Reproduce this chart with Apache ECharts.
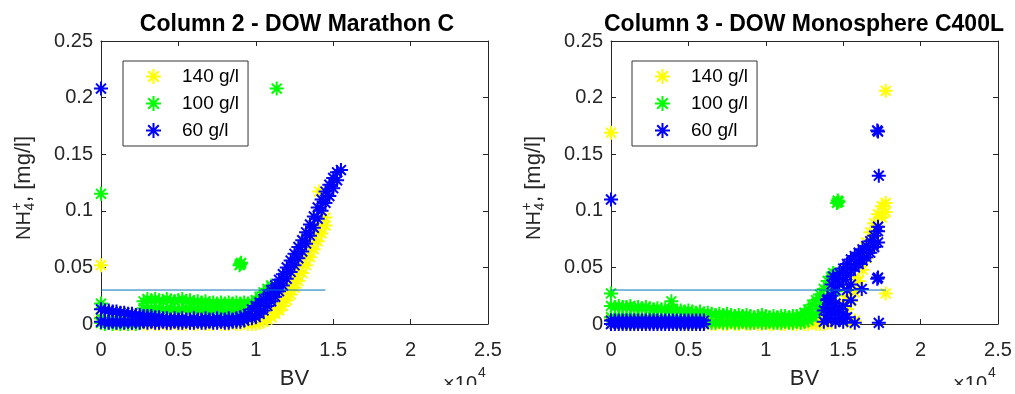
<!DOCTYPE html>
<html><head><meta charset="utf-8">
<script src="https://cdn.jsdelivr.net/npm/echarts@6/dist/echarts.min.js"></script>
<style>html,body{margin:0;padding:0;background:#fff}#c{width:1015px;height:394px}</style>
</head><body><div id="c"></div>
<script>
// ---------- tick labels ----------
const xTickLabels = ['0','0.5','1','1.5','2','2.5'];   // x10^4
const yTickLabels = ['0','0.05','0.1','0.15','0.2','0.25'];
const seriesNames = ['140 g/l','100 g/l','60 g/l'];
const titles = ['Column 2 - DOW Marathon C','Column 3 - DOW Monosphere C400L'];
const refLevel = 0.03;
const refEndLeft = 14500;
const refEndRight = 17750;

// ---------- BV sampling positions ----------
const bvLeft = [0,250,500,750,1000,1250,1500,1750,2000,2250,2500,2750,3000,3250,3500,3750,4000,4250,4500,4750,5000,5250,5500,5750,6000,6250,6500,6750,7000,7250,7500,7750,8000,8250,8500,8750,9000,9250,9500,9750,10000,10250,10500,10750,11000,11250,11500,11750,12000,12250,12500,12750,13000,13250,13500,13750,14000,14250,14500,14750,15000,15250,15500];
const bvRight = [0,250,500,750,1000,1250,1500,1750,2000,2250,2500,2750,3000,3250,3500,3750,4000,4250,4500,4750,5000,5250,5500,5750,6000,6250,6500,6750,7000,7250,7500,7750,8000,8250,8500,8750,9000,9250,9500,9750,10000,10250,10500,10750,11000,11250,11500,11750,12000,12250,12500,12750,13000,13250,13500,13750,14000,14250,14500,14750,15000,15250,15500,15750,16000,16250,16500,16750,17000,17250,17500,17750];

// ---------- Column 2 (left) ----------
const c2_140_hi = [0.005,0.004,0.004,0.005,0.003,0.004,0.004,0.003,0.004,0.005,0.004,0.003,0.004,0.004,0.003,0.004,0.003,0.004,0.003,0.003,0.004,0.003,0.003,0.004,0.003,0.003,0.004,0.003,0.003,0.003,0.004,0.003,
  0.003,0.003,0.002,0.003,0.002,0.003,0.002,0.003,
  0.003,0.005,0.007,0.010,0.013,0.016,0.020,0.024,0.029,0.034,0.040,0.046,0.053,0.060,0.067,0.074,0.081,0.088,0.094];
const c2_140_lo = [0.001,0.000,0.001,0.000,0.000,0.001,0.000,0.001,0.000,0.000,0.001,0.000,0.000,0.001,0.000,0.000,0.001,0.000,0.000,0.001,0.000,0.000,0.000,0.001,0.000,0.000,0.001,0.000,0.000,0.000,0.001,0.000,
  0.000,0.000,0.001,0.000,0.000,0.001,0.000,0.000,
  0.000,0.001,0.002,0.004,0.006,0.009,0.012,0.016,0.021,0.026,0.032,0.038,0.045,0.052,0.059,0.066,0.073,0.080,0.087];
const c2_140_extraX = [0, 0, 14100];
const c2_140_extraY = [0.052, 0.006, 0.117];

const c2_100_hi = [0.005,0.004,0.003,0.004,0.004,0.003,0.004,0.003,0.004,0.003,0.004,
  0.020,0.022,0.021,0.022,0.021,0.020,0.022,0.021,0.020,0.021,0.022,0.020,0.021,0.019,0.020,0.019,0.020,0.018,0.019,0.018,0.019,0.018,0.019,0.018,0.019,0.018,0.019,0.018,
  0.019,0.021,0.024,0.028,0.031,0.034];
const c2_100_lo = [0.001,0.000,0.001,0.000,0.001,0.000,0.001,0.000,0.001,0.000,0.001,
  0.014,0.013,0.014,0.013,0.014,0.013,0.012,0.014,0.013,0.012,0.013,0.014,0.012,0.013,0.012,0.013,0.012,0.011,0.012,0.013,0.011,0.012,0.011,0.012,0.011,0.012,0.011,0.012,
  0.013,0.015,0.018,0.021,0.025,0.028];
const c2_100_extraX = [0, 0, 9000, 9050, 8950, 11350];
const c2_100_extraY = [0.115, 0.018, 0.053, 0.054, 0.052, 0.208];

const c2_60_hi = [0.013,0.012,0.012,0.011,0.011,0.010,0.010,0.009,0.009,0.008,0.008,0.007,0.007,0.007,0.006,
  0.006,0.005,0.005,0.004,0.005,0.004,0.005,0.004,0.004,0.005,0.004,0.004,0.005,0.004,0.004,0.005,0.004,0.004,0.005,0.004,
  0.005,0.006,0.007,0.009,
  0.013,0.016,0.019,0.022,0.026,0.030,0.034,0.039,0.044,0.050,0.056,0.062,0.068,0.074,0.081,0.088,0.095,0.103,0.110,0.117,0.123,0.129,0.134];
const c2_60_lo = [0.002,0.002,0.001,0.002,0.001,0.002,0.001,0.002,0.001,0.002,0.001,0.002,0.001,0.002,0.001,
  0.001,0.002,0.001,0.001,0.002,0.001,0.001,0.002,0.001,0.001,0.002,0.001,0.001,0.002,0.001,0.001,0.002,0.001,0.001,0.002,
  0.002,0.002,0.003,0.005,
  0.005,0.006,0.009,0.012,0.016,0.020,0.024,0.029,0.034,0.040,0.046,0.052,0.058,0.064,0.071,0.078,0.085,0.093,0.100,0.107,0.113,0.120,0.127];
const c2_60_extraX = [0, 15500];
const c2_60_extraY = [0.208, 0.136];

// ---------- Column 3 (right) ----------
const c3_140_hi = [0.004,0.003,0.003,0.004,0.003,0.003,0.004,0.003,0.003,0.003,
  0.004,0.003,0.003,0.004,0.003,0.003,0.003,0.004,0.003,0.003,
  0.004,0.003,0.003,0.003,0.004,0.003,0.003,0.004,0.003,0.003,
  0.003,0.004,0.003,0.003,0.004,0.003,0.003,0.003,0.004,0.003,
  0.003,0.004,0.003,0.003,0.003,0.004,0.003,0.003,0.004,0.003,
  0.003,0.003,0.004,0.003,
  0.003,0.004,0.005,0.007,0.010,0.014,0.019,0.025,0.032,0.041,0.051,0.062,0.072,0.081,0.089,0.097,0.104,0.107];
const c3_140_lo = [0.000,0.001,0.000,0.000,0.001,0.000,0.000,0.001,0.000,0.000,
  0.001,0.000,0.000,0.001,0.000,0.000,0.001,0.000,0.000,0.001,
  0.000,0.000,0.001,0.000,0.000,0.001,0.000,0.000,0.001,0.000,
  0.000,0.001,0.000,0.000,0.001,0.000,0.000,0.001,0.000,0.000,
  0.001,0.000,0.000,0.001,0.000,0.000,0.001,0.000,0.000,0.001,
  0.000,0.000,0.001,0.000,
  0.000,0.000,0.001,0.001,0.002,0.004,0.008,0.013,0.020,0.028,0.038,0.048,0.058,0.068,0.077,0.086,0.094,0.099];
const c3_140_extraX = [0, 17750, 17750, 15000, 15500, 15750];
const c3_140_extraY = [0.169, 0.206, 0.027, 0.002, 0.001, 0.003];

const c3_100_hi = [0.016,0.015,0.016,0.015,0.015,0.016,0.014,0.015,0.014,0.015,0.014,0.013,0.014,0.013,0.013,0.012,0.013,0.012,0.012,0.011,0.012,0.011,0.010,0.011,
  0.009,0.010,0.009,0.008,0.009,0.008,0.009,0.008,0.007,0.008,0.007,0.008,0.007,0.006,0.007,0.008,0.007,0.006,0.007,0.006,0.007,0.007,0.006,0.007,0.007,
  0.008,0.010,0.013,0.017,0.021,0.026,0.031,0.038,0.042,0.044];
const c3_100_lo = [0.006,0.005,0.006,0.005,0.006,0.005,0.006,0.005,0.006,0.005,0.005,0.006,0.005,0.005,0.004,0.005,0.004,0.005,0.004,0.004,0.005,0.004,0.004,0.003,
  0.001,0.002,0.001,0.001,0.002,0.001,0.001,0.002,0.001,0.001,0.002,0.001,0.001,0.001,0.002,0.001,0.001,0.002,0.001,0.001,0.001,0.002,0.001,0.001,0.002,
  0.001,0.002,0.003,0.006,0.009,0.013,0.017,0.022,0.026,0.029];
const c3_100_extraX = [0, 3900, 14600, 14650, 14700, 14350];
const c3_100_extraY = [0.027, 0.020, 0.107, 0.109, 0.108, 0.045];

const c3_60_hi = [0.003,0.003,0.003,0.003,0.003,0.003,0.003,0.003,0.003,0.003,0.003,0.003,0.003,0.003,0.003,0.003,0.003,0.003,0.003,0.003,0.003,0.003,0.003,0.003,0.003,
  null,null,null,null,null,null,null,null,null,null,null,null,null,null,null,null,null,null,null,null,null,null,null,null,null,null,null,null,null,null,
  0.012,0.022,0.035,0.040,0.045,0.049,0.053,0.057,0.060,0.063,0.066,0.069,0.073,0.078,0.082];
const c3_60_lo = [0.000,0.000,0.000,0.000,0.000,0.000,0.000,0.000,0.000,0.000,0.000,0.000,0.000,0.000,0.000,0.000,0.000,0.000,0.000,0.000,0.000,0.000,0.000,0.000,0.000,
  null,null,null,null,null,null,null,null,null,null,null,null,null,null,null,null,null,null,null,null,null,null,null,null,null,null,null,null,null,null,
  0.002,0.004,0.025,0.030,0.035,0.039,0.043,0.047,0.050,0.053,0.056,0.059,0.063,0.068,0.072];
const c3_60_extraX = [0,13950,14000,14000,14250,14250,14250,14350,14500,14500,14500,14750,14750,15000,15000,15000,15250,15250,15500,15500,15750,16200,17200,17250,17300,17200,17250,17300,17250];
const c3_60_extraY = [0.110,0.021,0.008,0.015,0.004,0.012,0.020,0.042,0.002,0.010,0.018,0.005,0.013,0.002,0.009,0.016,0.006,0.030,0.021,0.035,0.001,0.031,0.171,0.170,0.131,0.040,0.041,0.001,0.086];

// ---------- build ----------
const FONT = '"Liberation Sans", Arial, Helvetica, sans-serif';
const TXT = '#262626';
const STAR = 'path://M0,-10L0,10M-10,0L10,0M-7.07,-7.07L7.07,7.07M7.07,-7.07L-7.07,7.07';
const COLORS = ['#FFFF00', '#00FF00', '#0000FF'];

function toPoints(xs, hi, lo, ex, ey) {
  const pts = [];
  for (let i = 0; i < hi.length; i++) {
    if (hi[i] != null) pts.push([xs[i], hi[i]]);
    if (lo[i] != null) pts.push([xs[i], lo[i]]);
  }
  for (let i = 0; i < ex.length; i++) pts.push([ex[i], ey[i]]);
  return pts;
}

const plotData = [
  [toPoints(bvLeft, c2_140_hi, c2_140_lo, c2_140_extraX, c2_140_extraY),
   toPoints(bvLeft, c2_100_hi, c2_100_lo, c2_100_extraX, c2_100_extraY),
   toPoints(bvLeft, c2_60_hi, c2_60_lo, c2_60_extraX, c2_60_extraY)],
  [toPoints(bvRight, c3_140_hi, c3_140_lo, c3_140_extraX, c3_140_extraY),
   toPoints(bvRight, c3_100_hi, c3_100_lo, c3_100_extraX, c3_100_extraY),
   toPoints(bvRight, c3_60_hi, c3_60_lo, c3_60_extraX, c3_60_extraY)]
];
const refEnds = [refEndLeft, refEndRight];

const GRID_LEFT = [101, 611];
const GRID_TOP = 41, GRID_W = 387, GRID_H = 283;

const axisLineStyle = { color: TXT, width: 1 };
function xAx(gi, pos) {
  return {
    type: 'value', gridIndex: gi, position: pos, min: 0, max: 25000, interval: 5000,
    axisLine: { show: true, onZero: false, lineStyle: axisLineStyle },
    axisTick: { show: true, inside: true, length: 5, lineStyle: axisLineStyle },
    splitLine: { show: false },
    axisLabel: pos === 'bottom' ? {
      show: true, margin: 16, fontSize: 20, fontFamily: FONT, color: TXT,
      formatter: v => xTickLabels[Math.round(v / 5000)]
    } : { show: false },
    name: pos === 'bottom' ? 'BV' : '',
    nameLocation: 'middle', nameGap: 44,
    nameTextStyle: { fontSize: 22, fontFamily: FONT, color: TXT }
  };
}
function yAx(gi, pos) {
  return {
    type: 'value', gridIndex: gi, position: pos, min: 0, max: 0.25, interval: 0.05,
    axisLine: { show: true, onZero: false, lineStyle: axisLineStyle },
    axisTick: { show: true, inside: true, length: 5, lineStyle: axisLineStyle },
    splitLine: { show: false },
    axisLabel: pos === 'left' ? {
      show: true, margin: 8, fontSize: 20, fontFamily: FONT, color: TXT,
      formatter: v => yTickLabels[Math.round(v / 0.05)]
    } : { show: false }
  };
}

const series = [];
for (let g = 0; g < 2; g++) {
  for (let s = 0; s < 3; s++) {
    series.push({
      type: 'scatter', name: seriesNames[s], xAxisIndex: g * 2, yAxisIndex: g * 2,
      data: plotData[g][s], symbol: STAR, symbolSize: 14,
      itemStyle: { color: COLORS[s], borderColor: COLORS[s], borderWidth: 2, opacity: 1 },
      clip: false, silent: true, emphasis: { disabled: true }, animation: false
    });
  }
  series.push({
    type: 'line', name: 'ref' + g, xAxisIndex: g * 2, yAxisIndex: g * 2,
    data: [[0, refLevel], [refEnds[g], refLevel]],
    symbol: 'none', lineStyle: { color: '#0072BD', width: 1 }, silent: true,
    animation: false, z: 5
  });
}

function yLabel(cx) {
  return {
    type: 'group', x: cx, y: 240, rotation: Math.PI / 2, z: 50,
    children: [
      { type: 'text', x: 0, y: 0, style: { text: 'NH', fontSize: 20, fontFamily: FONT, fill: TXT, align: 'left', verticalAlign: 'middle' } },
      { type: 'text', x: 29.5, y: -7, style: { text: '+', fontSize: 14, fontFamily: FONT, fill: TXT, align: 'left', verticalAlign: 'middle' } },
      { type: 'text', x: 29.5, y: 6, style: { text: '4', fontSize: 14, fontFamily: FONT, fill: TXT, align: 'left', verticalAlign: 'middle' } },
      { type: 'text', x: 38, y: 0, style: { text: ', [mg/l]', fontSize: 22, fontFamily: FONT, fill: TXT, align: 'left', verticalAlign: 'middle' } }
    ]
  };
}
function expLabel(rx) {
  return {
    type: 'group', z: 50,
    children: [
      { type: 'text', x: rx, y: 384, style: { text: '\u00d710', fontSize: 20, fontFamily: FONT, fill: TXT, align: 'right', verticalAlign: 'middle' } },
      { type: 'text', x: rx + 1, y: 373, style: { text: '4', fontSize: 14, fontFamily: FONT, fill: TXT, align: 'left', verticalAlign: 'middle' } }
    ]
  };
}

const legendCommon = {
  data: seriesNames, orient: 'vertical', top: 61,
  itemWidth: 47, itemHeight: 15, itemGap: 8,
  padding: [6, 9, 6, 22],
  borderColor: '#333', borderWidth: 1, borderRadius: 0, backgroundColor: '#fff',
  textStyle: { fontSize: 19, fontFamily: FONT, color: '#000' },
  selectedMode: false, inactiveColor: '#ccc'
};

const option = {
  backgroundColor: '#fff',
  animation: false,
  title: [
    { text: titles[0], left: 292, top: 8, textAlign: 'center', textStyle: { fontSize: 23, fontWeight: 'bold', fontFamily: FONT, color: '#000' } },
    { text: titles[1], left: 799, top: 8, textAlign: 'center', textStyle: { fontSize: 23, fontWeight: 'bold', fontFamily: FONT, color: '#000' } }
  ],
  legend: [
    Object.assign({}, legendCommon, { left: 123 }),
    Object.assign({}, legendCommon, { left: 632 })
  ],
  grid: [
    { left: GRID_LEFT[0], top: GRID_TOP, width: GRID_W, height: GRID_H, containLabel: false, outerBoundsMode: 'none' },
    { left: GRID_LEFT[1], top: GRID_TOP, width: GRID_W, height: GRID_H, containLabel: false, outerBoundsMode: 'none' }
  ],
  xAxis: [xAx(0, 'bottom'), xAx(0, 'top'), xAx(1, 'bottom'), xAx(1, 'top')],
  yAxis: [yAx(0, 'left'), yAx(0, 'right'), yAx(1, 'left'), yAx(1, 'right')],
  series: series,
  graphic: [
    yLabel(24), yLabel(534),
    expLabel(477), expLabel(987),
    { type: 'rect', x: 0, y: 385, shape: { x: 0, y: 0, width: 1015, height: 9 }, style: { fill: '#fff' }, z: 100 }
  ]
};

const chart = echarts.init(document.getElementById('c'), null, { renderer: 'canvas' });
chart.setOption(option);
</script>
</body></html>
